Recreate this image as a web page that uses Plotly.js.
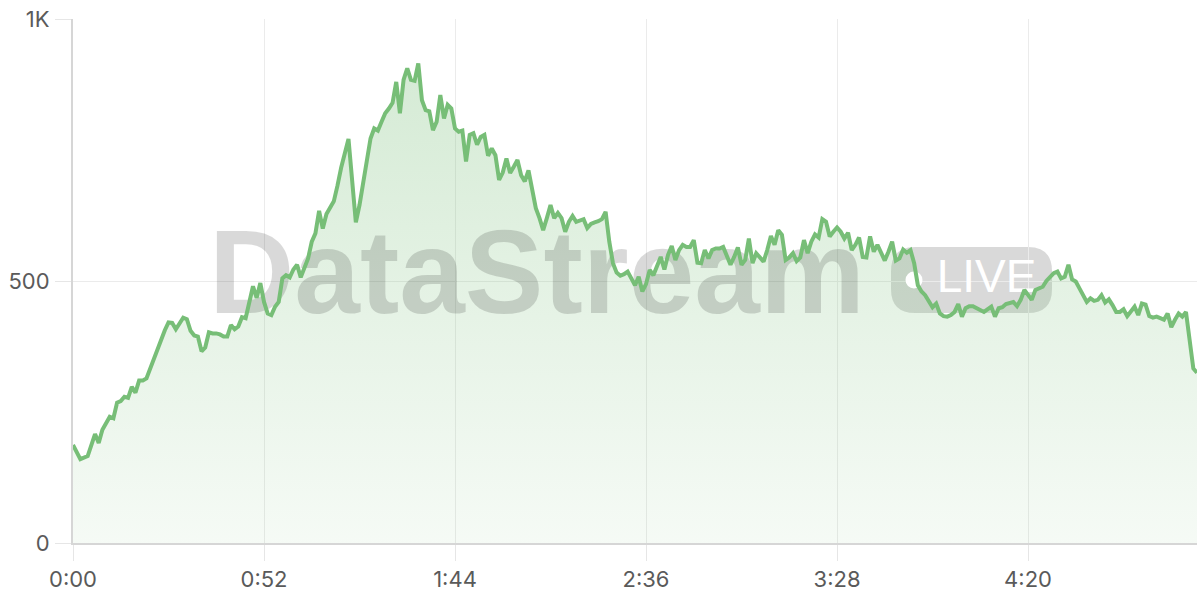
<!DOCTYPE html>
<html>
<head>
<meta charset="utf-8">
<script src="https://cdn.plot.ly/plotly-3.0.1.min.js"></script>
<style>
  html, body { margin: 0; padding: 0; background: #ffffff; }
  #chart { width: 1200px; height: 600px; }
</style>
</head>
<body>
<div id="chart"></div>
<script>
// ---- Data (elapsed seconds, viewers) ----
const timeSec = [0,2,4,6,7,8,10,11,12,13,14,15,16,17,18,19,20,21,22,24,25,26,27,28,29,30,31,32,33,34,35,36,37,38,39,40,41,42,43,44,45,46,47,48,49,50,51,52,53,54,55,56,57,58,59,60,61,62,63,64,65,66,67,68,69,70,71,72,73,75,77,78,79,80,81,82,83,84,85,86,87,88,89,90,91,92,93,94,95,96,97,98,99,100,101,102,103,104,105,106,107,108,109,110,111,112,113,114,115,116,117,118,119,120,121,122,123,124,126,127,128,129,130,131,132,133,134,135,136,137,138,139,140,141,142,143,144,145,146,147,148,149,150,151,152,153,154,155,156,157,158,159,160,161,162,163,164,165,166,167,168,169,170,171,172,173,174,175,176,177,178,179,180,181,182,183,184,185,186,188,189,190,191,192,193,194,195,196,197,198,199,200,201,202,203,204,205,206,207,208,209,210,211,212,213,214,215,216,217,218,219,220,221,222,223,224,225,226,227,228,229,230,231,232,233,234,235,236,237,238,239,240,241,242,243,244,245,246,248,250,251,252,253,254,255,256,257,258,259,260,261,262,263,264,265,266,267,268,269,270,271,272,273,274,275,276,277,278,279,280,281,282,283,284,285,286,287,288,289,290,291,292,293,294,295,296,297,298,299,300,301,302,303,305,306];
const viewers = [187,160,166,208,191,216,241,238,268,271,279,277,298,287,310,310,314,333,352,387,406,421,420,408,419,430,427,405,396,394,366,373,402,400,400,398,394,394,416,408,413,431,429,464,490,468,496,460,438,435,451,460,505,511,507,522,531,507,527,543,575,591,634,600,628,642,652,682,716,771,612,645,686,731,772,791,787,804,820,829,840,880,820,884,906,884,882,915,845,826,824,788,804,855,810,836,829,791,785,787,728,779,782,760,775,779,739,753,740,693,707,734,706,718,731,702,690,711,639,620,597,620,645,620,630,620,594,613,624,613,615,618,601,609,612,614,618,632,575,534,516,510,513,518,505,492,508,480,494,521,511,531,546,522,550,567,540,559,569,565,565,578,535,534,559,543,559,562,562,565,550,531,546,564,531,540,581,534,553,537,559,586,569,597,588,540,545,553,538,545,578,553,575,589,583,618,613,585,594,602,594,581,592,559,569,583,546,545,585,556,569,554,539,556,575,539,543,560,554,559,534,492,480,473,460,450,457,438,433,432,435,441,456,432,448,452,452,448,441,451,432,448,450,456,459,460,452,464,483,473,464,483,486,489,500,508,515,518,505,508,531,503,499,486,473,460,467,462,464,473,459,465,454,441,441,446,433,441,451,435,457,455,433,430,432,429,426,438,412,426,438,432,441,333,325];

const xTickVals = [0, 52, 104, 156, 208, 260];
const xTickText = ['0:00', '0:52', '1:44', '2:36', '3:28', '4:20'];
const yTickVals = [0, 500, 1000];
const yTickText = ['0', '500', '1K'];

const brandText = 'DataStream';
const liveText = 'LIVE';

// ---- Geometry helpers (pixel -> data) for the watermark only ----
const X_MAX = 306, Y_MAX = 1000;
const PL = 73, PR = 1197, PT = 19, PB = 543;
const dx = px => (px - PL) / (PR - PL) * X_MAX;
const dy = py => (PB - py) / (PB - PT) * Y_MAX;

function roundRectPath(x0, y0, x1, y1, r) {
  const p = (x, y) => dx(x) + ',' + dy(y);
  return 'M' + p(x0 + r, y0) +
    ' L' + p(x1 - r, y0) + ' Q' + p(x1, y0) + ' ' + p(x1, y0 + r) +
    ' L' + p(x1, y1 - r) + ' Q' + p(x1, y1) + ' ' + p(x1 - r, y1) +
    ' L' + p(x0 + r, y1) + ' Q' + p(x0, y1) + ' ' + p(x0, y1 - r) +
    ' L' + p(x0, y0 + r) + ' Q' + p(x0, y0) + ' ' + p(x0 + r, y0) + ' Z';
}

const GREEN = 'rgb(119,190,119)';
const WM = 'rgba(0,0,0,0.15)';

const fillTrace = {
  x: timeSec, y: viewers, type: 'scatter', mode: 'none',
  fill: 'tozeroy',
  fillgradient: {
    type: 'vertical',
    start: 0, stop: 1000,
    colorscale: [[0, 'rgba(118,189,118,0.07)'], [1, 'rgba(118,189,118,0.33)']]
  },
  hoverinfo: 'skip'
};

const brandTrace = {
  x: [dx(537)], y: [dy(283)], type: 'scatter', mode: 'text',
  text: [brandText], textposition: 'middle center',
  textfont: { family: 'Liberation Sans, Arial, sans-serif', size: 118, color: WM, weight: 700 },
  hoverinfo: 'skip'
};

const dotTrace = {
  x: [dx(914)], y: [dy(280)], type: 'scatter', mode: 'markers',
  marker: { size: 17, color: '#ffffff', line: { width: 0 } },
  hoverinfo: 'skip'
};

const liveTrace = {
  x: [dx(986.5)], y: [dy(280)], type: 'scatter', mode: 'text',
  text: [liveText], textposition: 'middle center',
  textfont: { family: 'Liberation Sans, Arial, sans-serif', size: 46, color: '#ffffff' },
  hoverinfo: 'skip'
};

const lineTrace = {
  x: timeSec, y: viewers, type: 'scatter', mode: 'lines',
  line: { color: GREEN, width: 4, shape: 'linear' },
  hoverinfo: 'skip'
};

const tickFont = { family: 'Inter, Roboto, sans-serif', size: 22, color: '#5a5a5a' };

const layout = {
  width: 1200, height: 600,
  margin: { l: PL, r: 1200 - PR, t: PT, b: 600 - PB, pad: 0 },
  paper_bgcolor: '#ffffff', plot_bgcolor: '#ffffff',
  showlegend: false, hovermode: false,
  xaxis: {
    range: [0, X_MAX], fixedrange: true,
    tickmode: 'array', tickvals: xTickVals, ticktext: xTickText,
    ticks: 'outside', ticklen: 16, tickwidth: 1, tickcolor: '#e6e6e6',
    showgrid: true, gridcolor: '#ebebeb', gridwidth: 1,
    showline: true, linecolor: '#d6d6d6', linewidth: 2,
    zeroline: false, tickfont: tickFont, ticklabelstandoff: 0
  },
  yaxis: {
    range: [0, Y_MAX], fixedrange: true,
    tickmode: 'array', tickvals: yTickVals, ticktext: yTickText,
    ticks: 'outside', ticklen: 16, tickwidth: 1, tickcolor: '#e6e6e6',
    showgrid: true, gridcolor: '#ebebeb', gridwidth: 1,
    showline: true, linecolor: '#d6d6d6', linewidth: 2,
    zeroline: false, tickfont: tickFont, ticklabelstandoff: 1
  },
  shapes: [
    {
      type: 'path', xref: 'x', yref: 'y', layer: 'below',
      path: roundRectPath(891, 247, 1052, 313, 24),
      fillcolor: WM, line: { width: 0 }
    }
  ]
};

Plotly.newPlot('chart', [fillTrace, brandTrace, dotTrace, liveTrace, lineTrace], layout,
  { staticPlot: true, displayModeBar: false });
</script>
</body>
</html>
